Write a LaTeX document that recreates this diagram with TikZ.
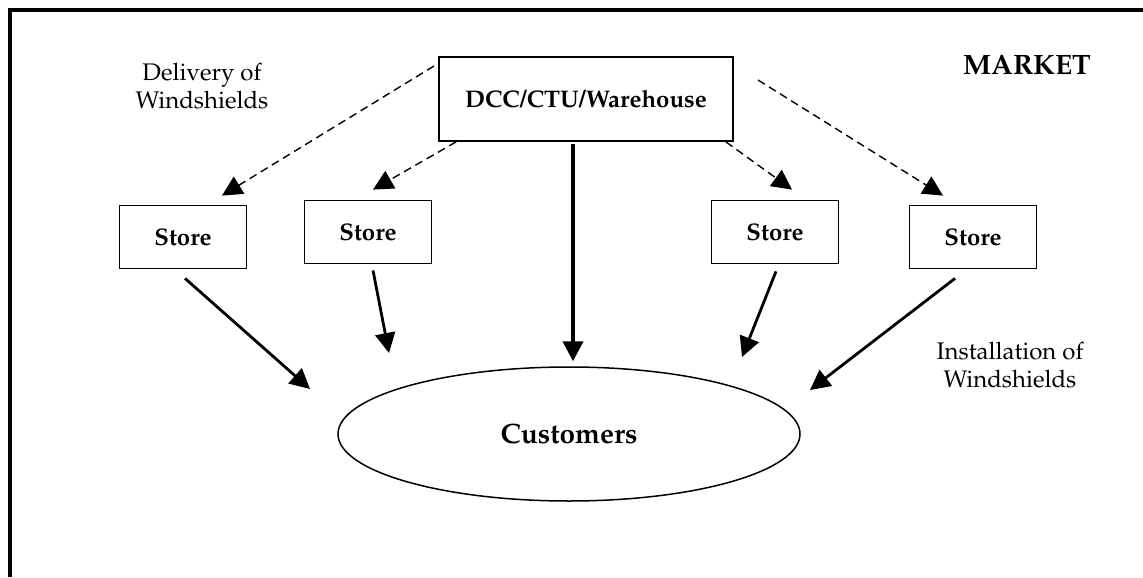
\documentclass[tikz,border=0pt]{standalone}
\usepackage[T1]{fontenc}
\usepackage{mathpazo}
\usetikzlibrary{arrows.meta, shapes.geometric, calc}

\tikzset{
  box/.style={draw, line width=0.9pt, minimum width=63.5pt, minimum height=31.5pt, font=\fontsize{12}{14}\selectfont\bfseries},
  deliv/.style={-{Triangle[length=10pt,width=10pt]}, dash pattern=on 4pt off 2.5pt, line width=0.7pt},
  inst/.style={-{Triangle[length=10pt,width=10pt]}, line width=1.4pt},
  lbl/.style={align=center, font=\fontsize{12}{14}\selectfont}
}

\begin{document}
\begin{tikzpicture}[x=0.5pt, y=-0.5pt]
		\useasboundingbox (0,0) rectangle (1143,577);
		\draw[line width=2pt] (10,577) -- (10,10) -- (1143,10);
		% top part
		\node[lbl] (deliv) at (202,86) {Delivery of\\Windshields};
		\node[lbl, font=\fontsize{14}{16}\selectfont\bfseries] (market) at (1027,65) {MARKET};
		\node[box, minimum width=147pt, minimum height=42pt] (dcc) at (586,99) {DCC/CTU/Warehouse};
		\foreach \x/\y/\name in {
			183/237/s1,
			368/232/s2,
			775/232/s3,
			973/237/s4}{
			\node[box] (\name) at (\x,\y) {Store};
		}
		\node[ellipse, draw, line width=0.75pt, inner sep=0pt, minimum width=231pt, minimum height=67pt,
		      font=\fontsize{14}{16}\selectfont\bfseries] (cust) at (569,434) {\raisebox{-3.5pt}{Customers}};
		\node[lbl] (inst) at (1010,365) {Installation of\\Windshields};
		% delivery
		\coordinate (a1) at (434,66);
		\coordinate (a4) at (758,80);
		\draw[deliv] (a1) -- ($(s1.north)+(39,-9)$);
		\draw[deliv] ($(dcc.south west)+(18,0)$) -- ($(s2.north)+(5,-10)$);
		\draw[deliv] ($(dcc.south east)+(-8,0)$) -- ($(s3.north)+(17,-10)$);
		\draw[deliv] (a4) -- ($(s4.north)+(-30,-9)$);
		% installation
		\coordinate (t1) at (310,389);
		\coordinate (t2) at (389,353);
		\coordinate (t3) at (742,357);
		\coordinate (t4) at (810,390);
		\foreach \s/\dx/\dy/\t in {s1/2/9/t1, s2/5/6/t2, s3/1/7/t3, s4/-18/9/t4}
		{\draw[inst] ($(\s.south)+(\dx,\dy)$) -- (\t);}
		\draw[inst, line width=2pt] ($(dcc.south)+(-13,2)$) -- ($(cust.north)+(4,-5)$);
\end{tikzpicture}
\end{document}
